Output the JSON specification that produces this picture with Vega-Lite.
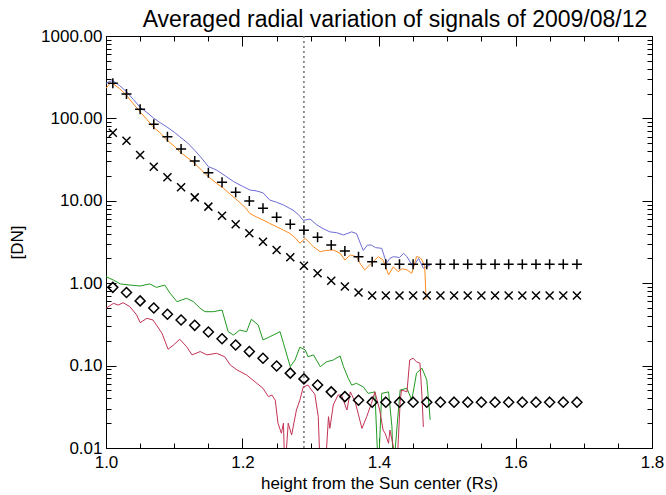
{
  "$schema": "https://vega.github.io/schema/vega-lite/v6.json",
  "width": 546,
  "height": 412,
  "autosize": {"type": "none"},
  "padding": {"left": 106, "top": 36, "right": 14, "bottom": 47},
  "background": "white",
  "config": {
    "font": "Liberation Sans",
    "view": {"stroke": "black", "strokeWidth": 1},
    "axis": {"domain": false, "grid": false, "tickColor": "black", "tickWidth": 1, "labelColor": "black", "titleColor": "black", "labelFont": "Liberation Sans", "titleFont": "Liberation Sans", "labelFontSize": 17, "titleFontSize": 17, "titleFontWeight": "normal", "labelOverlap": false, "labelFlush": false}
  },
  "title": {"text": "Averaged radial variation of signals of 2009/08/12", "font": "Liberation Sans", "fontSize": 23, "fontWeight": "normal", "color": "black", "anchor": "middle", "offset": 10, "dx": 16, "dy": 15},
  "datasets": {
    "lines": [
      {"x": 1.000, "v": 267, "s": "blue"}, {"x": 1.005, "v": 280, "s": "blue"}, {"x": 1.010, "v": 287, "s": "blue"}, {"x": 1.020, "v": 250, "s": "blue"}, {"x": 1.030, "v": 211, "s": "blue"}, {"x": 1.040, "v": 170, "s": "blue"}, {"x": 1.050, "v": 136, "s": "blue"}, {"x": 1.060, "v": 118, "s": "blue"}, {"x": 1.069, "v": 102, "s": "blue"}, {"x": 1.080, "v": 88, "s": "blue"}, {"x": 1.089, "v": 79, "s": "blue"}, {"x": 1.100, "v": 68, "s": "blue"}, {"x": 1.108, "v": 60, "s": "blue"}, {"x": 1.120, "v": 50, "s": "blue"}, {"x": 1.130, "v": 41, "s": "blue"}, {"x": 1.140, "v": 33, "s": "blue"}, {"x": 1.150, "v": 26, "s": "blue"}, {"x": 1.162, "v": 23.6, "s": "blue"}, {"x": 1.175, "v": 20, "s": "blue"}, {"x": 1.187, "v": 17.1, "s": "blue"}, {"x": 1.200, "v": 15, "s": "blue"}, {"x": 1.211, "v": 13.5, "s": "blue"}, {"x": 1.220, "v": 13.2, "s": "blue"}, {"x": 1.230, "v": 12.5, "s": "blue"}, {"x": 1.240, "v": 10.2, "s": "blue"}, {"x": 1.250, "v": 9.6, "s": "blue"}, {"x": 1.260, "v": 8.9, "s": "blue"}, {"x": 1.274, "v": 7.7, "s": "blue"}, {"x": 1.282, "v": 6.8, "s": "blue"}, {"x": 1.289, "v": 5.8, "s": "blue"}, {"x": 1.299, "v": 6.0, "s": "blue"}, {"x": 1.309, "v": 5.1, "s": "blue"}, {"x": 1.318, "v": 4.6, "s": "blue"}, {"x": 1.328, "v": 4.2, "s": "blue"}, {"x": 1.338, "v": 4.1, "s": "blue"}, {"x": 1.348, "v": 3.85, "s": "blue"}, {"x": 1.360, "v": 4.2, "s": "blue"}, {"x": 1.367, "v": 4.0, "s": "blue"}, {"x": 1.373, "v": 3.0, "s": "blue"}, {"x": 1.377, "v": 2.5, "s": "blue"}, {"x": 1.383, "v": 2.9, "s": "blue"}, {"x": 1.389, "v": 2.9, "s": "blue"}, {"x": 1.395, "v": 2.7, "s": "blue"}, {"x": 1.404, "v": 2.65, "s": "blue"}, {"x": 1.411, "v": 1.75, "s": "blue"}, {"x": 1.416, "v": 2.0, "s": "blue"}, {"x": 1.421, "v": 2.1, "s": "blue"}, {"x": 1.430, "v": 2.05, "s": "blue"}, {"x": 1.436, "v": 2.3, "s": "blue"}, {"x": 1.441, "v": 2.1, "s": "blue"}, {"x": 1.450, "v": 1.58, "s": "blue"}, {"x": 1.458, "v": 2.0, "s": "blue"}, {"x": 1.465, "v": 1.52, "s": "blue"}, {"x": 1.470, "v": 1.6, "s": "blue"}, {"x": 1.475, "v": 1.66, "s": "blue"},
      {"x": 1.000, "v": 232, "s": "orange"}, {"x": 1.006, "v": 267, "s": "orange"}, {"x": 1.011, "v": 261, "s": "orange"}, {"x": 1.020, "v": 230, "s": "orange"}, {"x": 1.030, "v": 192, "s": "orange"}, {"x": 1.040, "v": 150, "s": "orange"}, {"x": 1.050, "v": 120, "s": "orange"}, {"x": 1.060, "v": 97, "s": "orange"}, {"x": 1.069, "v": 79, "s": "orange"}, {"x": 1.080, "v": 66, "s": "orange"}, {"x": 1.089, "v": 54.7, "s": "orange"}, {"x": 1.100, "v": 46, "s": "orange"}, {"x": 1.108, "v": 39.4, "s": "orange"}, {"x": 1.120, "v": 33, "s": "orange"}, {"x": 1.130, "v": 28.5, "s": "orange"}, {"x": 1.140, "v": 23.5, "s": "orange"}, {"x": 1.150, "v": 19.6, "s": "orange"}, {"x": 1.160, "v": 16.8, "s": "orange"}, {"x": 1.172, "v": 14.2, "s": "orange"}, {"x": 1.182, "v": 12, "s": "orange"}, {"x": 1.192, "v": 10.2, "s": "orange"}, {"x": 1.204, "v": 8.3, "s": "orange"}, {"x": 1.211, "v": 7.0, "s": "orange"}, {"x": 1.220, "v": 6.4, "s": "orange"}, {"x": 1.230, "v": 5.85, "s": "orange"}, {"x": 1.240, "v": 5.3, "s": "orange"}, {"x": 1.250, "v": 4.85, "s": "orange"}, {"x": 1.260, "v": 4.4, "s": "orange"}, {"x": 1.270, "v": 4.0, "s": "orange"}, {"x": 1.278, "v": 3.5, "s": "orange"}, {"x": 1.284, "v": 3.05, "s": "orange"}, {"x": 1.292, "v": 3.5, "s": "orange"}, {"x": 1.298, "v": 3.1, "s": "orange"}, {"x": 1.304, "v": 2.77, "s": "orange"}, {"x": 1.314, "v": 2.41, "s": "orange"}, {"x": 1.322, "v": 2.5, "s": "orange"}, {"x": 1.333, "v": 2.53, "s": "orange"}, {"x": 1.343, "v": 2.31, "s": "orange"}, {"x": 1.350, "v": 1.91, "s": "orange"}, {"x": 1.358, "v": 2.2, "s": "orange"}, {"x": 1.367, "v": 2.1, "s": "orange"}, {"x": 1.373, "v": 1.7, "s": "orange"}, {"x": 1.379, "v": 1.45, "s": "orange"}, {"x": 1.389, "v": 1.75, "s": "orange"}, {"x": 1.399, "v": 2.1, "s": "orange"}, {"x": 1.406, "v": 1.91, "s": "orange"}, {"x": 1.414, "v": 1.26, "s": "orange"}, {"x": 1.421, "v": 1.58, "s": "orange"}, {"x": 1.428, "v": 1.38, "s": "orange"}, {"x": 1.434, "v": 1.5, "s": "orange"}, {"x": 1.441, "v": 1.45, "s": "orange"}, {"x": 1.448, "v": 1.32, "s": "orange"}, {"x": 1.455, "v": 2.1, "s": "orange"}, {"x": 1.460, "v": 2.05, "s": "orange"}, {"x": 1.463, "v": 1.91, "s": "orange"}, {"x": 1.467, "v": 1.58, "s": "orange"}, {"x": 1.469, "v": 0.63, "s": "orange"},
      {"x": 1.000, "v": 1.20, "s": "green"}, {"x": 1.011, "v": 1.09, "s": "green"}, {"x": 1.021, "v": 0.98, "s": "green"}, {"x": 1.035, "v": 0.95, "s": "green"}, {"x": 1.050, "v": 0.925, "s": "green"}, {"x": 1.064, "v": 0.98, "s": "green"}, {"x": 1.074, "v": 0.89, "s": "green"}, {"x": 1.086, "v": 0.95, "s": "green"}, {"x": 1.094, "v": 0.754, "s": "green"}, {"x": 1.104, "v": 0.597, "s": "green"}, {"x": 1.118, "v": 0.656, "s": "green"}, {"x": 1.128, "v": 0.597, "s": "green"}, {"x": 1.138, "v": 0.496, "s": "green"}, {"x": 1.145, "v": 0.451, "s": "green"}, {"x": 1.157, "v": 0.451, "s": "green"}, {"x": 1.170, "v": 0.473, "s": "green"}, {"x": 1.179, "v": 0.258, "s": "green"}, {"x": 1.187, "v": 0.235, "s": "green"}, {"x": 1.196, "v": 0.270, "s": "green"}, {"x": 1.206, "v": 0.258, "s": "green"}, {"x": 1.213, "v": 0.365, "s": "green"}, {"x": 1.223, "v": 0.311, "s": "green"}, {"x": 1.230, "v": 0.205, "s": "green"}, {"x": 1.240, "v": 0.224, "s": "green"}, {"x": 1.255, "v": 0.258, "s": "green"}, {"x": 1.260, "v": 0.187, "s": "green"}, {"x": 1.270, "v": 0.097, "s": "green"}, {"x": 1.277, "v": 0.117, "s": "green"}, {"x": 1.284, "v": 0.167, "s": "green"}, {"x": 1.292, "v": 0.155, "s": "green"}, {"x": 1.296, "v": 0.128, "s": "green"}, {"x": 1.304, "v": 0.135, "s": "green"}, {"x": 1.314, "v": 0.097, "s": "green"}, {"x": 1.323, "v": 0.111, "s": "green"}, {"x": 1.333, "v": 0.117, "s": "green"}, {"x": 1.343, "v": 0.131, "s": "green"}, {"x": 1.348, "v": 0.097, "s": "green"}, {"x": 1.355, "v": 0.070, "s": "green"}, {"x": 1.360, "v": 0.058, "s": "green"}, {"x": 1.367, "v": 0.061, "s": "green"}, {"x": 1.377, "v": 0.055, "s": "green"}, {"x": 1.384, "v": 0.046, "s": "green"}, {"x": 1.394, "v": 0.048, "s": "green"}, {"x": 1.399, "v": 0.005, "s": "green"}, {"x": 1.404, "v": 0.046, "s": "green"}, {"x": 1.414, "v": 0.048, "s": "green"}, {"x": 1.419, "v": 0.018, "s": "green"}, {"x": 1.421, "v": 0.005, "s": "green"}, {"x": 1.426, "v": 0.0165, "s": "green"}, {"x": 1.431, "v": 0.0506, "s": "green"}, {"x": 1.441, "v": 0.053, "s": "green"}, {"x": 1.448, "v": 0.038, "s": "green"}, {"x": 1.455, "v": 0.081, "s": "green"}, {"x": 1.463, "v": 0.093, "s": "green"}, {"x": 1.470, "v": 0.067, "s": "green"}, {"x": 1.475, "v": 0.022, "s": "green"},
      {"x": 1.000, "v": 0.496, "s": "red"}, {"x": 1.011, "v": 0.570, "s": "red"}, {"x": 1.018, "v": 0.543, "s": "red"}, {"x": 1.025, "v": 0.580, "s": "red"}, {"x": 1.035, "v": 0.519, "s": "red"}, {"x": 1.045, "v": 0.411, "s": "red"}, {"x": 1.050, "v": 0.332, "s": "red"}, {"x": 1.060, "v": 0.375, "s": "red"}, {"x": 1.069, "v": 0.357, "s": "red"}, {"x": 1.082, "v": 0.247, "s": "red"}, {"x": 1.091, "v": 0.158, "s": "red"}, {"x": 1.099, "v": 0.178, "s": "red"}, {"x": 1.108, "v": 0.209, "s": "red"}, {"x": 1.118, "v": 0.170, "s": "red"}, {"x": 1.126, "v": 0.135, "s": "red"}, {"x": 1.138, "v": 0.148, "s": "red"}, {"x": 1.148, "v": 0.135, "s": "red"}, {"x": 1.162, "v": 0.141, "s": "red"}, {"x": 1.174, "v": 0.128, "s": "red"}, {"x": 1.182, "v": 0.102, "s": "red"}, {"x": 1.192, "v": 0.0885, "s": "red"}, {"x": 1.206, "v": 0.0769, "s": "red"}, {"x": 1.221, "v": 0.061, "s": "red"}, {"x": 1.230, "v": 0.053, "s": "red"}, {"x": 1.238, "v": 0.042, "s": "red"}, {"x": 1.243, "v": 0.044, "s": "red"}, {"x": 1.248, "v": 0.038, "s": "red"}, {"x": 1.252, "v": 0.020, "s": "red"}, {"x": 1.257, "v": 0.0151, "s": "red"}, {"x": 1.260, "v": 0.020, "s": "red"}, {"x": 1.262, "v": 0.005, "s": "red"}, {"x": 1.267, "v": 0.020, "s": "red"}, {"x": 1.272, "v": 0.0144, "s": "red"}, {"x": 1.279, "v": 0.0289, "s": "red"}, {"x": 1.284, "v": 0.038, "s": "red"}, {"x": 1.289, "v": 0.055, "s": "red"}, {"x": 1.296, "v": 0.058, "s": "red"}, {"x": 1.301, "v": 0.0506, "s": "red"}, {"x": 1.306, "v": 0.045, "s": "red"}, {"x": 1.311, "v": 0.024, "s": "red"}, {"x": 1.314, "v": 0.005, "s": "red"}, {"x": 1.321, "v": 0.005, "s": "red"}, {"x": 1.326, "v": 0.024, "s": "red"}, {"x": 1.328, "v": 0.0173, "s": "red"}, {"x": 1.333, "v": 0.0333, "s": "red"}, {"x": 1.340, "v": 0.044, "s": "red"}, {"x": 1.345, "v": 0.044, "s": "red"}, {"x": 1.353, "v": 0.0289, "s": "red"}, {"x": 1.358, "v": 0.048, "s": "red"}, {"x": 1.365, "v": 0.0365, "s": "red"}, {"x": 1.375, "v": 0.0173, "s": "red"}, {"x": 1.382, "v": 0.024, "s": "red"}, {"x": 1.389, "v": 0.0349, "s": "red"}, {"x": 1.394, "v": 0.048, "s": "red"}, {"x": 1.401, "v": 0.0289, "s": "red"}, {"x": 1.406, "v": 0.0165, "s": "red"}, {"x": 1.409, "v": 0.0151, "s": "red"}, {"x": 1.414, "v": 0.0114, "s": "red"}, {"x": 1.416, "v": 0.0165, "s": "red"}, {"x": 1.421, "v": 0.0105, "s": "red"}, {"x": 1.426, "v": 0.005, "s": "red"}, {"x": 1.431, "v": 0.0365, "s": "red"}, {"x": 1.433, "v": 0.0506, "s": "red"}, {"x": 1.441, "v": 0.048, "s": "red"}, {"x": 1.445, "v": 0.117, "s": "red"}, {"x": 1.450, "v": 0.123, "s": "red"}, {"x": 1.455, "v": 0.111, "s": "red"}, {"x": 1.460, "v": 0.107, "s": "red"}, {"x": 1.463, "v": 0.042, "s": "red"}, {"x": 1.465, "v": 0.018, "s": "red"}
    ],
    "markers": [
      {"x": 1.01, "v": 267, "t": "plus"}, {"x": 1.03, "v": 198, "t": "plus"}, {"x": 1.05, "v": 129, "t": "plus"}, {"x": 1.07, "v": 85, "t": "plus"}, {"x": 1.09, "v": 60, "t": "plus"}, {"x": 1.11, "v": 42.5, "t": "plus"}, {"x": 1.13, "v": 30.4, "t": "plus"}, {"x": 1.15, "v": 21.9, "t": "plus"}, {"x": 1.17, "v": 16.8, "t": "plus"}, {"x": 1.19, "v": 12.7, "t": "plus"}, {"x": 1.21, "v": 9.95, "t": "plus"}, {"x": 1.23, "v": 8.1, "t": "plus"}, {"x": 1.25, "v": 6.3, "t": "plus"}, {"x": 1.27, "v": 5.2, "t": "plus"}, {"x": 1.29, "v": 4.4, "t": "plus"}, {"x": 1.31, "v": 3.6, "t": "plus"}, {"x": 1.33, "v": 2.9, "t": "plus"}, {"x": 1.35, "v": 2.46, "t": "plus"}, {"x": 1.37, "v": 2.1, "t": "plus"}, {"x": 1.39, "v": 1.82, "t": "plus"}, {"x": 1.41, "v": 1.7, "t": "plus"}, {"x": 1.43, "v": 1.7, "t": "plus"}, {"x": 1.45, "v": 1.7, "t": "plus"}, {"x": 1.47, "v": 1.7, "t": "plus"}, {"x": 1.49, "v": 1.7, "t": "plus"}, {"x": 1.51, "v": 1.7, "t": "plus"}, {"x": 1.53, "v": 1.7, "t": "plus"}, {"x": 1.55, "v": 1.7, "t": "plus"}, {"x": 1.57, "v": 1.7, "t": "plus"}, {"x": 1.59, "v": 1.7, "t": "plus"}, {"x": 1.61, "v": 1.7, "t": "plus"}, {"x": 1.63, "v": 1.7, "t": "plus"}, {"x": 1.65, "v": 1.7, "t": "plus"}, {"x": 1.67, "v": 1.7, "t": "plus"}, {"x": 1.69, "v": 1.7, "t": "plus"},
      {"x": 1.01, "v": 67, "t": "cross"}, {"x": 1.03, "v": 53.6, "t": "cross"}, {"x": 1.05, "v": 36, "t": "cross"}, {"x": 1.07, "v": 25.9, "t": "cross"}, {"x": 1.09, "v": 19.3, "t": "cross"}, {"x": 1.11, "v": 14.6, "t": "cross"}, {"x": 1.13, "v": 11.0, "t": "cross"}, {"x": 1.15, "v": 8.5, "t": "cross"}, {"x": 1.17, "v": 6.6, "t": "cross"}, {"x": 1.19, "v": 5.2, "t": "cross"}, {"x": 1.21, "v": 4.03, "t": "cross"}, {"x": 1.23, "v": 3.19, "t": "cross"}, {"x": 1.25, "v": 2.53, "t": "cross"}, {"x": 1.27, "v": 2.06, "t": "cross"}, {"x": 1.29, "v": 1.63, "t": "cross"}, {"x": 1.31, "v": 1.32, "t": "cross"}, {"x": 1.33, "v": 1.07, "t": "cross"}, {"x": 1.35, "v": 0.91, "t": "cross"}, {"x": 1.37, "v": 0.77, "t": "cross"}, {"x": 1.39, "v": 0.71, "t": "cross"}, {"x": 1.41, "v": 0.71, "t": "cross"}, {"x": 1.43, "v": 0.71, "t": "cross"}, {"x": 1.45, "v": 0.71, "t": "cross"}, {"x": 1.47, "v": 0.71, "t": "cross"}, {"x": 1.49, "v": 0.71, "t": "cross"}, {"x": 1.51, "v": 0.71, "t": "cross"}, {"x": 1.53, "v": 0.71, "t": "cross"}, {"x": 1.55, "v": 0.71, "t": "cross"}, {"x": 1.57, "v": 0.71, "t": "cross"}, {"x": 1.59, "v": 0.71, "t": "cross"}, {"x": 1.61, "v": 0.71, "t": "cross"}, {"x": 1.63, "v": 0.71, "t": "cross"}, {"x": 1.65, "v": 0.71, "t": "cross"}, {"x": 1.67, "v": 0.71, "t": "cross"}, {"x": 1.69, "v": 0.71, "t": "cross"},
      {"x": 1.01, "v": 0.89, "t": "diamond"}, {"x": 1.03, "v": 0.77, "t": "diamond"}, {"x": 1.05, "v": 0.61, "t": "diamond"}, {"x": 1.07, "v": 0.50, "t": "diamond"}, {"x": 1.09, "v": 0.42, "t": "diamond"}, {"x": 1.11, "v": 0.357, "t": "diamond"}, {"x": 1.13, "v": 0.308, "t": "diamond"}, {"x": 1.15, "v": 0.256, "t": "diamond"}, {"x": 1.17, "v": 0.212, "t": "diamond"}, {"x": 1.19, "v": 0.178, "t": "diamond"}, {"x": 1.21, "v": 0.148, "t": "diamond"}, {"x": 1.23, "v": 0.123, "t": "diamond"}, {"x": 1.25, "v": 0.099, "t": "diamond"}, {"x": 1.27, "v": 0.081, "t": "diamond"}, {"x": 1.29, "v": 0.069, "t": "diamond"}, {"x": 1.31, "v": 0.058, "t": "diamond"}, {"x": 1.33, "v": 0.048, "t": "diamond"}, {"x": 1.35, "v": 0.042, "t": "diamond"}, {"x": 1.37, "v": 0.038, "t": "diamond"}, {"x": 1.39, "v": 0.036, "t": "diamond"}, {"x": 1.41, "v": 0.036, "t": "diamond"}, {"x": 1.43, "v": 0.036, "t": "diamond"}, {"x": 1.45, "v": 0.036, "t": "diamond"}, {"x": 1.47, "v": 0.036, "t": "diamond"}, {"x": 1.49, "v": 0.036, "t": "diamond"}, {"x": 1.51, "v": 0.036, "t": "diamond"}, {"x": 1.53, "v": 0.036, "t": "diamond"}, {"x": 1.55, "v": 0.036, "t": "diamond"}, {"x": 1.57, "v": 0.036, "t": "diamond"}, {"x": 1.59, "v": 0.036, "t": "diamond"}, {"x": 1.61, "v": 0.036, "t": "diamond"}, {"x": 1.63, "v": 0.036, "t": "diamond"}, {"x": 1.65, "v": 0.036, "t": "diamond"}, {"x": 1.67, "v": 0.036, "t": "diamond"}, {"x": 1.69, "v": 0.036, "t": "diamond"}
    ],
    "marker_line": [{"x": 1.29}]
  },
  "layer": [
    {
      "data": {"name": "marker_line"},
      "mark": {"type": "rule", "color": "#707070", "strokeWidth": 1.5, "strokeDash": [2, 3]},
      "encoding": {
        "x": {"field": "x", "type": "quantitative", "scale": {"domain": [1.0, 1.8], "nice": false, "zero": false},
          "axis": {"orient": "bottom", "title": "height from the Sun center (Rs)", "values": [1.0, 1.05, 1.1, 1.15, 1.2, 1.25, 1.3, 1.35, 1.4, 1.45, 1.5, 1.55, 1.6, 1.65, 1.7, 1.75, 1.8],
            "labelExpr": "abs(datum.value*5 - round(datum.value*5)) < 0.01 ? format(datum.value, '.1f') : ''",
            "tickSize": {"condition": {"test": "abs(datum.value*5 - round(datum.value*5)) < 0.01", "value": -10}, "value": -5},
            "labelPadding": 16, "titlePadding": 0}}
      }
    },
    {
      "data": {"name": "lines"},
      "mark": {"type": "line", "strokeWidth": 1, "clip": true},
      "encoding": {
        "x": {"field": "x", "type": "quantitative", "scale": {"domain": [1.0, 1.8], "nice": false, "zero": false},
          "axis": {"orient": "top", "title": null, "labels": false, "values": [1.0, 1.05, 1.1, 1.15, 1.2, 1.25, 1.3, 1.35, 1.4, 1.45, 1.5, 1.55, 1.6, 1.65, 1.7, 1.75, 1.8],
            "tickSize": {"condition": {"test": "abs(datum.value*5 - round(datum.value*5)) < 0.01", "value": -10}, "value": -5}}},
        "y": {"field": "v", "type": "quantitative", "scale": {"type": "log", "domain": [0.01, 1000], "nice": false},
          "axis": {"orient": "left", "title": "[DN]", "format": ".2f",
            "values": [0.01, 0.02, 0.03, 0.04, 0.05, 0.06, 0.07, 0.08, 0.09, 0.1, 0.2, 0.3, 0.4, 0.5, 0.6, 0.7, 0.8, 0.9, 1, 2, 3, 4, 5, 6, 7, 8, 9, 10, 20, 30, 40, 50, 60, 70, 80, 90, 100, 200, 300, 400, 500, 600, 700, 800, 900, 1000],
            "labelExpr": "abs(log(datum.value)/LN10 - round(log(datum.value)/LN10)) < 0.01 ? format(datum.value, '.2f') : ''",
            "tickSize": {"condition": {"test": "abs(log(datum.value)/LN10 - round(log(datum.value)/LN10)) < 0.01", "value": -10}, "value": -5},
            "labelPadding": 14, "titlePadding": 14}},
        "color": {"field": "s", "type": "nominal", "scale": {"domain": ["blue", "orange", "green", "red"], "range": ["#6b6bd6", "#ff8a1e", "#1f9a1f", "#c23355"]}, "legend": null}
      }
    },
    {
      "data": {"name": "markers"},
      "mark": {"type": "point", "filled": false, "strokeWidth": 1.5, "color": "black", "clip": true, "opacity": 1},
      "encoding": {
        "x": {"field": "x", "type": "quantitative", "scale": {"domain": [1.0, 1.8], "nice": false, "zero": false}, "axis": null},
        "y": {"field": "v", "type": "quantitative", "scale": {"type": "log", "domain": [0.01, 1000], "nice": false},
          "axis": {"orient": "right", "title": null, "labels": false,
            "values": [0.01, 0.02, 0.03, 0.04, 0.05, 0.06, 0.07, 0.08, 0.09, 0.1, 0.2, 0.3, 0.4, 0.5, 0.6, 0.7, 0.8, 0.9, 1, 2, 3, 4, 5, 6, 7, 8, 9, 10, 20, 30, 40, 50, 60, 70, 80, 90, 100, 200, 300, 400, 500, 600, 700, 800, 900, 1000],
            "tickSize": {"condition": {"test": "abs(log(datum.value)/LN10 - round(log(datum.value)/LN10)) < 0.01", "value": -10}, "value": -5}}},
        "shape": {"field": "t", "type": "nominal", "scale": {"domain": ["plus", "cross", "diamond"], "range": ["M-1,0L1,0M0,-1L0,1", "M-0.8,-0.8L0.8,0.8M-0.8,0.8L0.8,-0.8", "M0,-1L1,0L0,1L-1,0Z"]}, "legend": null},
        "size": {"value": 100}
      }
    }
  ],
  "resolve": {"axis": {"x": "independent", "y": "independent"}}
}
